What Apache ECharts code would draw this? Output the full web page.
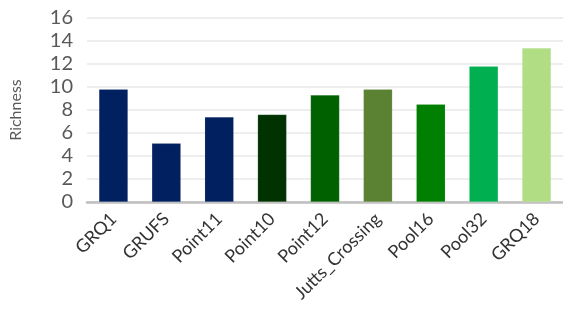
<!DOCTYPE html>
<html>
<head>
<meta charset="utf-8">
<script src="https://cdn.jsdelivr.net/npm/echarts@6/dist/echarts.min.js"></script>
<style>
html, body { margin: 0; padding: 0; background: #fff; }
#chart { width: 563px; height: 329px; }
</style>
</head>
<body>
<div id="chart"></div>
<script>
var sites = ['GRQ1', 'GRUFS', 'Point11', 'Point10', 'Point12', 'Jutts_Crossing', 'Pool16', 'Pool32', 'GRQ18'];
var richness = [9.8, 5.1, 7.4, 7.6, 9.3, 9.8, 8.5, 11.8, 13.4];
var barColors = ['#002060', '#002060', '#002060', '#003300', '#006100', '#5B8133', '#008000', '#00B050', '#B1DD85'];

var chart = echarts.init(document.getElementById('chart'));

var option = {
	animation: false,
	grid: {
		left: 87,
		right: -3,
		top: 18,
		bottom: 127
	},
	xAxis: {
		type: 'category',
		data: sites,
		axisTick: { show: false },
		axisLine: { lineStyle: { color: '#BFBFBF', width: 2.5 } },
		axisLabel: {
			rotate: 45,
			interval: 0,
			margin: 14,
			color: '#333333',
			fontSize: 18,
			fontFamily: 'Lato, sans-serif'
		}
	},
	yAxis: {
		type: 'value',
		min: 0,
		max: 16,
		interval: 2,
		name: 'Richness',
		nameLocation: 'middle',
		nameGap: 63,
		nameTextStyle: { color: '#595959', fontSize: 16, fontFamily: 'Lato, sans-serif' },
		axisLine: { show: false },
		axisTick: { show: false },
		axisLabel: {
			color: '#595959',
			fontSize: 20,
			margin: 14,
			fontFamily: 'Lato, sans-serif'
		},
		splitLine: { lineStyle: { color: '#EEEEEE', width: 2 } }
	},
	series: [{
		type: 'bar',
		barWidth: 29,
		data: richness.map(function (v, i) {
			return { value: v, itemStyle: { color: barColors[i] } };
		}),
		itemStyle: { borderColor: 'rgba(255,255,255,0.25)', borderWidth: 0.5 }
	}]
};

chart.setOption(option);
</script>
</body>
</html>
